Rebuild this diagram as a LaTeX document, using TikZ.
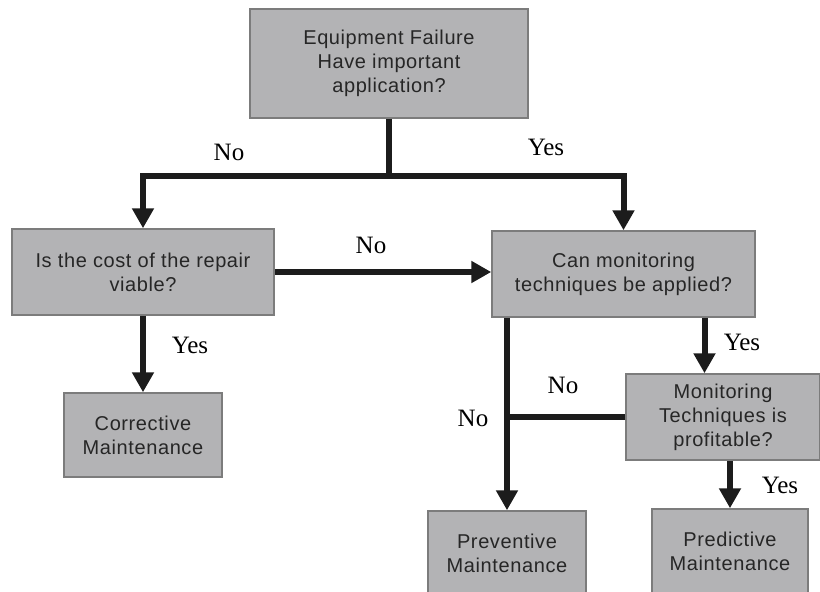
\documentclass[tikz,border=0pt]{standalone}
\usepackage{fontspec}
\setmainfont{Liberation Serif}
\newfontfamily\boxfont[LetterSpace=3]{Liberation Sans}
\usetikzlibrary{arrows.meta,calc}
\definecolor{boxfill}{HTML}{B3B3B5}
\definecolor{boxline}{HTML}{7C7C7C}
\definecolor{boxtext}{HTML}{262626}
\definecolor{wire}{HTML}{1C1C1C}
\tikzset{
  decision/.style={draw=boxline, line width=1.5pt, fill=boxfill, text=boxtext,
    align=center, inner sep=0pt,
    font=\boxfont\fontsize{20}{24}\selectfont},
  wireline/.style={draw=wire, line width=6pt},
  wirearrow/.style={wireline, -{Triangle[width=21pt,length=20pt]}},
  answer/.style={font=\fontsize{25}{28}\selectfont, text=black, inner sep=0pt}
}
\begin{document}
\begin{tikzpicture}[x=1pt,y=-1pt]
\useasboundingbox[clip] (0,0) rectangle (820,592);

% decision boxes
\node[decision, minimum width=278pt, minimum height=109pt] (top) at (389,63.5)
  {Equipment Failure\\Have important\\application?};
\node[decision, minimum width=262pt, minimum height=86pt] (cost) at (143,272)
  {Is the cost of the repair\\viable?};
\node[decision, minimum width=263pt, minimum height=86pt] (monitor) at (623.5,274)
  {Can monitoring\\techniques be applied?};
\node[decision, minimum width=158pt, minimum height=84pt] (corr) at (143,435)
  {Corrective\\Maintenance};
\node[decision, minimum width=194pt, minimum height=86pt] (profit) at (723,417)
  {Monitoring\\Techniques is\\profitable?};
\node[decision, minimum width=158pt, minimum height=84pt] (prev) at (507,553)
  {Preventive\\Maintenance};
\node[decision, minimum width=156pt, minimum height=84pt] (pred) at (730,551)
  {Predictive\\Maintenance};

% connectors
\coordinate (split) at ($(top.south)+(0,57)$);
\draw[wireline] (top.south) -- (split);
\draw[wirearrow] (split) -| (cost.north);
\draw[wirearrow] (split) -| (monitor.north);
\draw[wirearrow] (cost.east) -- (cost.east -| monitor.west);
\draw[wirearrow] (cost.south) -- (corr.north);
\draw[wirearrow] (monitor.south -| prev.north) -- (prev.north);
\coordinate (myes) at ($(monitor.south)+(81,0)$);
\draw[wirearrow] (myes) -- (myes |- profit.north);
\draw[wireline] (profit.west) -- (profit.west -| prev.north);
\draw[wirearrow] (profit.south -| pred.north) -- (pred.north);

% answer labels
\node[answer] (l1) at (229,152) {No};
\node[answer] (l2) at (546,147) {Yes};
\node[answer] (l3) at (371,245) {No};
\node[answer] (l4) at (190,345) {Yes};
\node[answer] (l5) at (742,342) {Yes};
\node[answer] (l6) at (563,385) {No};
\node[answer] (l7) at (473,418) {No};
\node[answer] (l8) at (780,485) {Yes};
\end{tikzpicture}
\end{document}
